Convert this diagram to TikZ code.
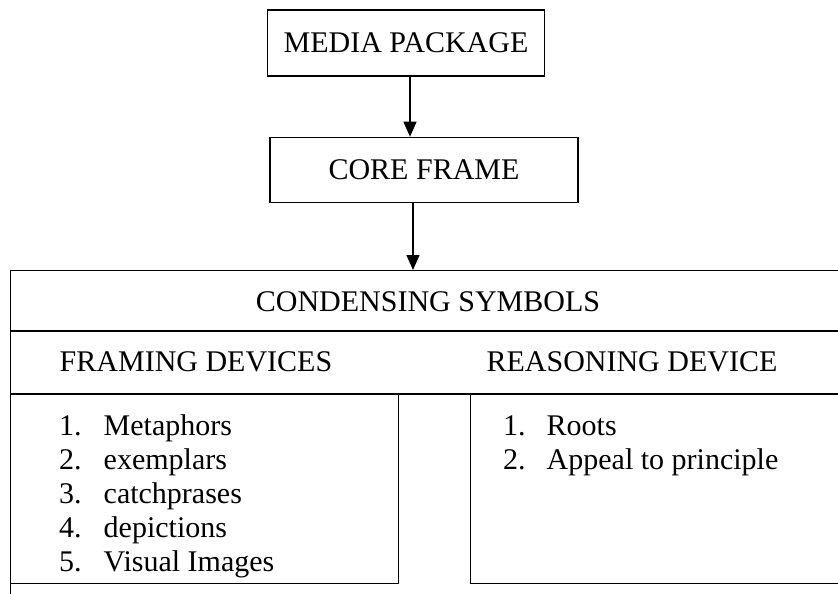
\documentclass[tikz,border=0pt]{standalone}
\usepackage{fontspec}
\setmainfont{Liberation Serif}
\usetikzlibrary{arrows.meta,positioning}

\begin{document}
\begin{tikzpicture}[
    x=1pt, y=1pt,
    font=\fontsize{30}{34}\selectfont,
    titlebox/.style={rectangle, draw, line width=1.4pt, minimum width=277pt, minimum height=66pt},
    listbox/.style={rectangle, draw, line width=1.4pt, minimum height=189pt, anchor=north west},
    heading/.style={inner sep=0pt},
    itemlist/.style={anchor=base west, inner sep=0pt},
    divider/.style={line width=1.4pt},
    arrow/.style={-{Triangle[length=15pt,width=13pt]}, line width=1.4pt}
]

\useasboundingbox (0,0) rectangle (838,-594);
\clip (0,0) rectangle (838,-594);

% Top boxes
\node[titlebox] (media) at (406,-43) {MEDIA PACKAGE};
\node[titlebox, minimum width=308pt, minimum height=65pt, below=60pt of media, xshift=18pt] (core) {CORE FRAME};

% Outer frame
\node[rectangle, draw, line width=1.4pt, anchor=north west, minimum width=900pt, minimum height=400pt] (frame) at (10,-270) {};
\node[heading] (cond) at (428,-302) {CONDENSING SYMBOLS};
\draw[divider] ([yshift=-61pt]frame.north west) -- ([yshift=-61pt]frame.north east);
\node[heading] (framing) at (196,-362) {FRAMING DEVICES};
\node[heading] (reasoning) at (632,-362) {REASONING DEVICE};
\draw[divider] ([yshift=-124pt]frame.north west) -- ([yshift=-124pt]frame.north east);

% Lists
\node[listbox, minimum width=388pt] (leftbox) at (10,-394) {};
\node[listbox, minimum width=430pt] (rightbox) at (470,-394) {};
\node[itemlist] (framelist) at (59,-435) {\begin{tabular}[t]{@{}l@{\hspace{22pt}}l@{}}
1.&Metaphors\\
2.&exemplars\\
3.&catchprases\\
4.&depictions\\
5.&Visual Images
\end{tabular}};
\node[itemlist] (reasonlist) at (503,-435) {\begin{tabular}[t]{@{}l@{\hspace{21pt}}l@{}}
1.&Roots\\
2.&Appeal to principle
\end{tabular}};

% Arrows
\draw[arrow] ([xshift=4pt]media.south) -- ([xshift=4pt]media.south |- core.north);
\draw[arrow] ([xshift=-11pt]core.south) -- ([xshift=-11pt]core.south |- frame.north);

\end{tikzpicture}
\end{document}
